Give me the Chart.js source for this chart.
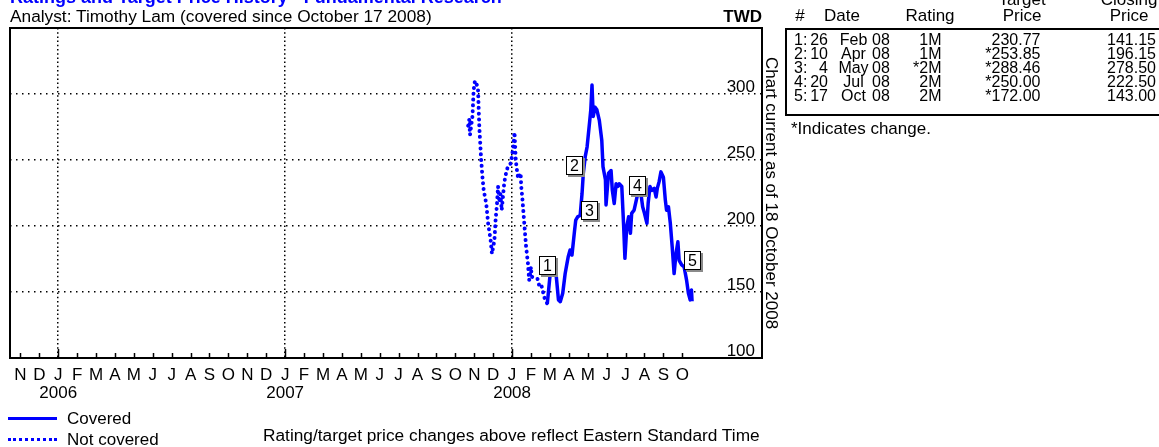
<!DOCTYPE html>
<html><head><meta charset="utf-8">
<script src="https://cdn.jsdelivr.net/npm/chart.js@4/dist/chart.umd.min.js"></script>
<style>
html,body{margin:0;padding:0;background:#fff;}
#wrap{position:relative;width:1159px;height:447px;overflow:hidden;font-family:"Liberation Sans",Arial,sans-serif;color:#000;}
#c{position:absolute;left:0;top:0;}
.t{position:absolute;white-space:nowrap;}
</style></head><body>
<div id="wrap"><canvas id="c" width="1159" height="447"></canvas></div>
<script>
// ---------- data ----------
const notCoveredDates = ['2007-10-22','2007-10-24','2007-10-25','2007-10-29','2007-10-31','2007-11-02','2007-11-05','2007-11-07','2007-11-09','2007-11-12','2007-11-14','2007-11-16','2007-11-20','2007-11-23','2007-11-27','2007-11-29','2007-12-03','2007-12-05','2007-12-07','2007-12-09','2007-12-11','2007-12-13','2007-12-15','2007-12-17','2007-12-19','2007-12-21','2007-12-25','2007-12-30','2008-01-03','2008-01-05','2008-01-07','2008-01-09','2008-01-11','2008-01-15','2008-01-16','2008-01-18','2008-01-21','2008-01-24','2008-01-27','2008-01-29','2008-02-01','2008-02-02','2008-02-11','2008-02-14','2008-02-17','2008-02-22','2008-02-26'];
const notCoveredPrices = [276,281,269,283,303,310,307,303,275,250,237,227,217,202,189,179,189,205,215,230,218,224,212,222,232,238,245,247.5,260,271,250,242,236,240,230,220,202,184,171.7,159,169,161.6,160,154,155,145,141.15];
const coveredDates = ['2008-02-26','2008-03-01','2008-03-04','2008-03-08','2008-03-11','2008-03-15','2008-03-18','2008-03-22','2008-03-26','2008-03-29','2008-03-31','2008-04-03','2008-04-06','2008-04-10','2008-04-12','2008-04-15','2008-04-19','2008-04-22','2008-04-24','2008-04-27','2008-04-30','2008-05-04','2008-05-06','2008-05-08','2008-05-10','2008-05-13','2008-05-16','2008-05-20','2008-05-24','2008-05-26','2008-05-30','2008-05-31','2008-06-04','2008-06-08','2008-06-10','2008-06-13','2008-06-16','2008-06-19','2008-06-21','2008-06-25','2008-06-28','2008-06-30','2008-07-03','2008-07-06','2008-07-09','2008-07-11','2008-07-15','2008-07-20','2008-07-22','2008-07-25','2008-07-29','2008-08-01','2008-08-05','2008-08-07','2008-08-10','2008-08-13','2008-08-17','2008-08-20','2008-08-22','2008-08-25','2008-08-28','2008-09-01','2008-09-04','2008-09-06','2008-09-09','2008-09-12','2008-09-15','2008-09-18','2008-09-21','2008-09-24','2008-09-26','2008-09-30','2008-10-04','2008-10-08','2008-10-11','2008-10-14','2008-10-16','2008-10-17'];
const coveredPrices = [141.15,161.6,166.7,163,164,144,142.7,149,164,171.7,176.7,181.8,178,196.15,204.5,207,208,224.8,240,252.5,260,278.5,288,306.8,283,290,288,280,265,245,235,216,240,242,227,217,232,230,232,230,199.5,175.5,199.5,207,194.5,209.6,212,222.5,225,228.5,214.6,209.6,202,217,230,227,228.5,222,228.5,233.6,241,237,220,212,214.6,202,184,164,179,188,174,170.5,169,159,149,144,151.5,143];

const markerLabels = ['1','2','3','4','5'];
const markerDates = ['2008-02-26','2008-04-10','2008-05-04','2008-07-20','2008-10-17'];
const markerLevels = [170, 245.5, 211.5, 230.5, 174];

const tableNums = ['1:','2:','3:','4:','5:'];
const tableDays = ['26','10','4','20','17'];
const tableMonths = ['Feb','Apr','May','Jul','Oct'];
const tableYears = ['08','08','08','08','08'];
const tableRatings = ['1M','1M','*2M','2M','2M'];
const tableTargets = ['230.77','*253.85','*288.46','*250.00','*172.00'];
const tableCloses = ['141.15','196.15','278.50','222.50','143.00'];

const yTickValues = [100,150,200,250,300];
const monthLetters = ['J','F','M','A','M','J','J','A','S','O','N','D'];
const firstTickMonth = '2005-11-01';
const lastTickMonth = '2008-10-01';
const xMinDate = '2005-10-15';
const xMaxDate = '2009-02-07';
const yMin = 100, yMax = 350;

// ---------- helpers ----------
function mi(s){
  const y=+s.slice(0,4), m=+s.slice(5,7)-1, d=+s.slice(8,10);
  const dim=new Date(Date.UTC(y,m+1,0)).getUTCDate();
  return (y-2006)*12+m+(d-1)/dim;
}
const tickMonths=[];
for(let v=Math.round(mi(firstTickMonth)); v<=Math.round(mi(lastTickMonth)); v++) tickMonths.push(v);

const FONT='"Liberation Sans", Arial, sans-serif';
Chart.defaults.font.family=FONT;
Chart.defaults.color='#000';

const framePlugin={
  id:'frame',
  beforeDatasetsDraw(chart){
    const {ctx,chartArea:a,scales:{x}}=chart;
    ctx.save();
    ctx.strokeStyle='#000';
    ctx.lineWidth=1.5;
    x.ticks.forEach(t=>{
      const px=Math.round(x.getPixelForValue(t.value))+0.5;
      const len=(t.value%12===0)?9:5;
      ctx.beginPath();ctx.moveTo(px,a.bottom);ctx.lineTo(px,a.bottom-len);ctx.stroke();
    });
    ctx.lineWidth=2;
    ctx.strokeRect(a.left,a.top,a.right-a.left,a.bottom-a.top);
    ctx.restore();
  },
  afterDatasetsDraw(chart){
    const {ctx,scales:{x,y}}=chart;
    ctx.save();
    ctx.font='16px '+FONT;
    ctx.textAlign='center';ctx.textBaseline='middle';
    markerDates.forEach((d,i)=>{
      const cx=x.getPixelForValue(mi(d)), cy=y.getPixelForValue(markerLevels[i]);
      const w=17,h=19, l=Math.round(cx-w/2), t=Math.round(cy-h/2);
      ctx.fillStyle='#8a8a8a';ctx.fillRect(l+2,t+2,w,h);
      ctx.fillStyle='#fff';ctx.fillRect(l,t,w,h);
      ctx.strokeStyle='#000';ctx.lineWidth=1;ctx.strokeRect(l+0.5,t+0.5,w-1,h-1);
      ctx.fillStyle='#000';ctx.fillText(markerLabels[i],l+w/2,t+h/2+1);
    });
    ctx.restore();
  }
};

new Chart(document.getElementById('c'),{
  type:'line',
  data:{datasets:[
    {label:'Covered',data:coveredDates.map((d,i)=>({x:mi(d),y:coveredPrices[i]})),
     borderColor:'#0000ff',borderWidth:3.5,pointRadius:0,tension:0,borderJoinStyle:'round',fill:false},
    {label:'Not covered',data:notCoveredDates.map((d,i)=>({x:mi(d),y:notCoveredPrices[i]})),
     borderColor:'#0000ff',borderWidth:4,borderDash:[0.01,5.8],borderCapStyle:'round',pointRadius:0,tension:0,fill:false}
  ]},
  options:{
    responsive:false,animation:false,
    layout:{padding:{left:10,top:28,right:397,bottom:0}},
    plugins:{legend:{display:false},tooltip:{enabled:false}},
    scales:{
      x:{type:'linear',min:mi(xMinDate),max:mi(xMaxDate),
        afterBuildTicks:s=>{s.ticks=tickMonths.map(v=>({value:v}));},
        afterFit:s=>{s.height=89;},
        ticks:{autoSkip:false,maxRotation:0,minRotation:0,padding:8,color:'#000',
          font:{size:17,lineHeight:18/17},
          callback:v=>{const k=((v%12)+12)%12;const L=monthLetters[k];return k===0?[L,String(2006+v/12)]:L;}},
        grid:{drawTicks:false,lineWidth:1.5,
          color:c=>(c.tick&&c.tick.value%12===0)?'#000':'rgba(0,0,0,0)'},
        border:{display:false,dash:[1.5,2.7]}
      },
      y:{type:'linear',position:'right',min:yMin,max:yMax,
        afterBuildTicks:s=>{s.ticks=yTickValues.map(v=>({value:v}));},
        afterFit:s=>{s.width=0;},
        ticks:{mirror:true,padding:-7,labelOffset:-7,color:'#000',font:{size:17}},
        grid:{drawTicks:false,lineWidth:1.5,
          color:c=>(c.tick&&c.tick.value>yMin&&c.tick.value<yMax)?'#000':'rgba(0,0,0,0)'},
        border:{display:false,dash:[1.5,4.5]}
      }
    }
  },
  plugins:[framePlugin]
});

// ---------- surrounding text (HTML) ----------
const wrap=document.getElementById('wrap');
function txt(s,x,base,o={}){
  const size=o.size||17;
  const el=document.createElement('div');
  el.className='t';el.textContent=s;
  el.style.fontSize=size+'px';el.style.lineHeight=size+'px';
  el.style.top=(base-0.8465*size)+'px';
  el.style.left=x+'px';
  if(o.bold)el.style.fontWeight='bold';
  el.style.color=o.color||'#000';
  if(o.align==='right')el.style.transform='translateX(-100%)';
  else if(o.align==='center')el.style.transform='translateX(-50%)';
  wrap.appendChild(el);return el;
}
txt('Ratings and Target Price History - Fundamental Research',10,3.5,{size:18,bold:true,color:'#0000ff'});
txt('Analyst: Timothy Lam (covered since October 17 2008)',10,22.7,{size:17.3});
txt('TWD',762,22,{bold:true,align:'right'});

// table
txt('#',800,21.5,{align:'center'});
txt('Date',842,21.5,{align:'center'});
txt('Rating',930,21.5,{align:'center'});
txt('Target',1022,5,{align:'center'});
txt('Price',1022,21.5,{align:'center'});
txt('Closing',1129,5,{align:'center'});
txt('Price',1129,21.5,{align:'center'});
const box=document.createElement('div');
box.style.cssText='position:absolute;left:785px;top:28px;width:420px;height:88px;border:2px solid #000;box-sizing:border-box;';
wrap.appendChild(box);
tableNums.forEach((n,i)=>{
  const b=46+i*14;
  const o={size:16};
  txt(n,794,b,o);
  txt(tableDays[i],828,b,{size:16,align:'right'});
  txt(tableMonths[i],853.5,b,{size:16,align:'center'});
  txt(tableYears[i],872,b,o);
  txt(tableRatings[i],941.5,b,{size:16,align:'right'});
  txt(tableTargets[i],1040.5,b,{size:16,align:'right'});
  txt(tableCloses[i],1156,b,{size:16,align:'right'});
});
txt('*Indicates change.',791,134.5);

// vertical note
const v=txt('Chart current as of 18 October 2008',779.5,14.4);
v.style.top='57px';v.style.transformOrigin='0 0';v.style.transform='rotate(90deg)';

// legend
const l1=document.createElement('div');
l1.style.cssText='position:absolute;left:8px;top:416.5px;width:49px;height:3px;background:#0000ff;';
wrap.appendChild(l1);
const l2=document.createElement('div');
l2.style.cssText='position:absolute;left:8px;top:437.5px;width:49px;height:0;border-top:3px dotted #0000ff;';
wrap.appendChild(l2);
txt('Covered',67,424);
txt('Not covered',67,445);
txt('Rating/target price changes above reflect Eastern Standard Time',263,442,{size:17.3});
</script>
</body></html>
